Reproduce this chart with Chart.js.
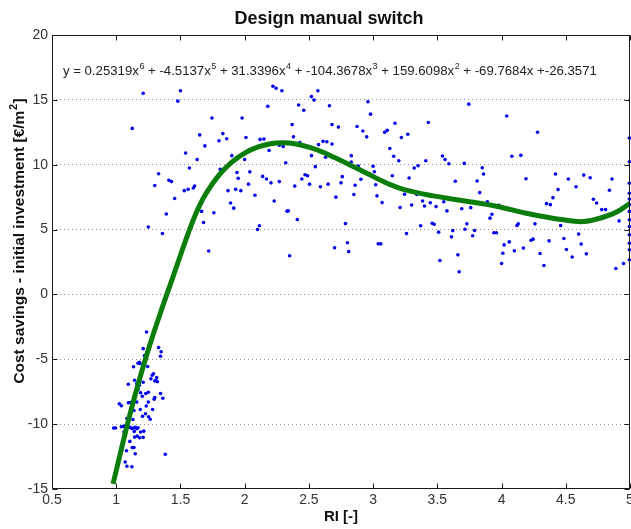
<!DOCTYPE html>
<html>
<head>
<meta charset="utf-8">
<script src="https://cdn.jsdelivr.net/npm/chart.js@4.4.1/dist/chart.umd.min.js"></script>
<style>
  html, body { margin: 0; padding: 0; background: #fff; overflow: hidden; }
  #wrap { width: 640px; height: 529px; }
</style>
</head>
<body>
<div id="wrap"><canvas id="chart" width="640" height="529"></canvas></div>
<script>
// ═══ DATA ═══
const xTicks = [0.5, 1, 1.5, 2, 2.5, 3, 3.5, 4, 4.5, 5];
const yTicks = [-15, -10, -5, 0, 5, 10, 15, 20];

// scatter: RI vs cost savings - initial investment
const riValues = [
  // cluster near RI = 1
  1.236, 1.33, 1.35, 1.345, 1.21, 1.22, 1.18, 1.17, 1.185, 1.135, 1.245, 1.29, 1.28, 1.27, 1.315, 1.31, 1.32, 1.30,
  1.094, 1.143, 1.16, 1.18, 1.21, 1.17, 1.19, 1.23, 1.25, 1.345, 1.363, 1.30, 1.295, 1.203, 1.16, 1.094, 1.11, 1.024,
  1.04, 1.187, 1.25, 1.234, 1.138, 1.228, 1.205, 1.252, 1.265, 1.283, 1.13, 1.083, 0.98, 0.995, 1.04, 1.055, 1.07,
  1.104, 1.12, 1.133, 1.148, 1.16, 1.17, 1.06, 1.14, 1.19, 1.215, 1.143, 1.164, 1.182, 1.21, 1.106, 1.08, 1.04, 1.125,
  1.138, 1.148, 1.382, 1.07, 1.083, 1.122,
  // RI 1.1 - 2.3
  1.21, 1.50, 1.48, 1.125, 1.745, 1.98, 2.22, 2.245, 2.18, 1.65, 1.83, 1.86, 1.80, 1.69, 2.01, 2.12, 2.15, 2.19, 2.27,
  1.54, 1.63, 1.90, 2.0, 1.57, 1.81, 1.94, 2.04, 1.33, 1.41, 1.43, 1.95, 2.14, 2.17, 2.205, 2.27, 1.30, 1.53, 1.56,
  1.60, 1.61, 1.77, 1.71, 1.87, 1.93, 1.97, 2.03, 2.08, 1.455, 1.89, 1.915, 2.23, 1.39, 1.76, 1.665, 1.68, 1.25, 1.36,
  2.115, 2.10, 1.72,
  2.35, 2.70, 2.80, 2.81, 3.04, 3.06,
  // RI 2.3 - 3.6
  2.29, 2.42, 2.46, 2.52, 2.54, 2.57, 2.66, 2.37, 2.38, 2.68, 2.73, 2.96, 2.98, 2.875, 2.92, 2.95, 3.17, 3.09, 3.11,
  3.22, 3.27, 3.43, 2.30, 2.43, 2.575, 2.61, 2.64, 2.68, 2.52, 2.63, 2.83, 2.83, 2.885, 3.13, 3.16, 3.2, 3.0, 3.01,
  3.32, 3.35, 3.41, 3.54, 3.56, 3.59, 2.32, 2.55, 2.39, 2.445, 2.47, 2.49, 2.505, 2.59, 2.65, 2.75, 2.76, 2.905, 2.86,
  2.85, 2.71, 3.02, 3.03, 3.07, 3.15, 3.125, 3.28, 3.245, 3.21, 3.30, 3.34, 3.385, 3.40, 3.445, 3.49, 3.55, 3.575,
  2.33, 2.34, 2.41, 2.785, 3.37, 3.46, 3.475, 3.26, 3.51, 3.52,
  // RI 3.6 - 5
  3.745, 4.04, 4.28, 3.71, 3.85, 3.86, 4.08, 4.15, 4.19, 3.64, 3.81, 3.83, 3.89, 4.42, 4.52, 4.58, 4.64, 4.69, 4.86,
  4.44, 4.40, 4.35, 4.38, 4.84, 4.715, 4.74, 4.78, 4.81, 3.69, 3.76, 3.925, 3.91, 3.98, 3.61, 3.62, 3.715, 3.73, 3.775,
  3.79, 3.94, 3.96, 4.06, 4.02, 4.0, 4.01, 4.10, 4.12, 4.13, 4.17, 4.23, 4.245, 4.26, 4.30, 4.33, 4.37, 4.46, 4.485,
  4.505, 4.55, 4.60, 4.62, 4.66, 3.66, 3.67, 4.915, 4.89, 4.95,
  4.995, 4.995, 4.995, 4.995, 4.995, 4.995, 4.995, 4.995, 4.995, 4.995, 4.995, 4.995, 4.995
];
const savingsValues = [
  -2.9, -4.1, -4.42, -4.77, -4.18, -4.72, -5.23, -5.31, -5.33, -5.58, -5.56, -6.12, -6.23, -6.51, -6.41, -6.64, -6.73, -6.67,
  -6.92, -6.62, -6.87, -7.0, -6.77, -7.33, -7.58, -7.64, -7.54, -7.64, -8.0, -7.95, -8.08, -7.85, -8.3, -8.35, -8.33, -8.43,
  -8.58, -8.87, -8.3, -8.6, -8.95, -9.2, -9.4, -9.43, -9.62, -8.87, -9.64, -9.56, -10.3, -10.3, -10.2, -10.17, -10.15,
  -10.23, -10.33, -10.3, -10.25, -10.35, -10.28, -10.6, -10.56, -10.6, -10.54, -11.0, -10.92, -11.05, -11.02, -11.33, -12.05, -12.02, -11.8,
  -11.8, -12.28, -12.33, -12.92, -13.25, -13.28,
  15.5, 15.7, 14.9, 12.8, 13.6, 13.6, 16.05, 15.9, 14.5, 12.3, 12.4, 12.0, 11.85, 11.45, 12.1, 11.95, 11.98, 11.1, 11.5,
  10.9, 10.4, 10.7, 10.4, 9.75, 9.65, 9.4, 9.45, 9.3, 8.8, 8.7, 8.95, 9.1, 8.9, 8.6, 8.7, 8.4, 8.0, 8.1,
  8.2, 8.35, 8.75, 7.9, 8.0, 8.1, 8.0, 8.5, 7.65, 7.4, 7.05, 6.65, 7.2, 6.2, 6.3, 6.4, 5.55, 5.2, 4.7,
  5.3, 5.0, 3.35,
  2.98, 3.6, 3.98, 3.3, 3.9, 3.9,
  15.7, 14.6, 14.2, 15.25, 14.98, 15.7, 14.55, 13.1, 12.15, 13.1, 12.9, 14.85, 13.9, 12.95, 12.6, 12.15, 13.2, 12.5, 12.65,
  12.1, 12.35, 13.25, 11.4, 11.7, 11.55, 11.8, 11.77, 11.6, 10.7, 10.57, 10.7, 10.2, 9.9, 11.25, 10.65, 10.3, 9.88, 9.46,
  9.75, 9.92, 10.3, 10.67, 10.4, 10.08, 10.15, 9.85, 8.35, 8.9, 9.23, 9.15, 8.5, 8.3, 8.5, 8.6, 9.08, 8.88, 8.42,
  7.7, 7.5, 8.46, 7.6, 7.08, 9.15, 8.46, 8.98, 7.72, 6.7, 6.9, 7.7, 7.2, 6.82, 7.07, 6.77, 7.15, 6.44,
  6.42, 6.44, 5.77, 5.46, 5.3, 5.49, 5.41, 4.69, 4.8, 2.62,
  14.67, 13.75, 12.5, 10.1, 9.77, 9.28, 10.65, 10.72, 8.92, 8.72, 8.75, 7.85, 7.15, 9.28, 8.9, 8.3, 9.2, 9.0, 8.9,
  8.08, 7.46, 7.0, 6.92, 8.03, 7.34, 7.05, 6.54, 6.54, 6.6, 6.69, 6.18, 5.88, 6.88, 4.44, 4.92, 5.03, 5.44, 4.52,
  4.93, 4.75, 4.75, 4.05, 3.82, 2.38, 3.18, 3.36, 5.31, 5.44, 3.57, 4.18, 4.26, 5.44, 3.15, 2.23, 4.13, 5.31, 4.31,
  3.46, 2.88, 4.65, 3.88, 3.13, 3.05, 1.75, 5.67, 2.0, 2.38,
  12.05, 10.23, 8.57, 7.8, 7.35, 6.92, 6.4, 5.75, 5.23, 4.6, 3.95, 3.44, 2.67
];

// 6th order fit curve
const fitRI = [0.975, 1.117, 1.234, 1.338, 1.44, 1.57, 1.63, 1.70, 1.80, 1.90, 2.00, 2.10, 2.20, 2.30, 2.40, 2.50, 2.60,
  2.70, 2.82, 2.95, 3.08, 3.21, 3.34, 3.47, 3.60, 3.75, 3.96, 4.22, 4.48, 4.64, 4.79, 4.90, 5.0];
const fitSavings = [-14.6, -8.87, -4.77, -1.6, 1.3, 4.98, 6.45, 7.8, 9.2, 10.2, 10.9, 11.35, 11.62, 11.7, 11.6, 11.35, 11.0,
  10.55, 9.98, 9.34, 8.7, 8.18, 7.85, 7.6, 7.38, 7.15, 6.8, 6.2, 5.75, 5.62, 5.95, 6.38, 7.03];

const FONT = "'Liberation Sans', Arial, Helvetica, sans-serif";

// ═══ FRAME + TEXT PLUGIN ═══
const framePlugin = {
  id: 'frame',
  afterDatasetsDraw(chart) {
    const ctx = chart.ctx, a = chart.chartArea;
    const xs = chart.scales.x, ys = chart.scales.y;
    ctx.save();
    ctx.strokeStyle = '#1a1a1a';
    ctx.lineWidth = 1;
    const L = Math.round(a.left) + 0.5, R = Math.round(a.right) - 0.5;
    const T = Math.round(a.top) + 0.5, B = Math.round(a.bottom) - 0.5;
    ctx.strokeRect(L, T, R - L, B - T);
    ctx.beginPath();
    xTicks.forEach(v => {
      const px = Math.round(xs.getPixelForValue(v)) + 0.5;
      ctx.moveTo(px, B); ctx.lineTo(px, B - 5);
      ctx.moveTo(px, T); ctx.lineTo(px, T + 5);
    });
    yTicks.forEach(v => {
      const py = Math.round(ys.getPixelForValue(v)) + 0.5;
      ctx.moveTo(L, py); ctx.lineTo(L + 5, py);
      ctx.moveTo(R, py); ctx.lineTo(R - 5, py);
    });
    ctx.stroke();
    ctx.restore();
  },
  afterDraw(chart) {
    const ctx = chart.ctx, a = chart.chartArea;
    ctx.save();
    ctx.fillStyle = '#111';
    ctx.textBaseline = 'alphabetic';

    // title
    ctx.font = 'bold 18px ' + FONT;
    ctx.textAlign = 'center';
    ctx.fillText('Design manual switch', 329, 24);

    // x label
    ctx.font = 'bold 15px ' + FONT;
    ctx.fillText('RI [-]', (a.left + a.right) / 2, 521);

    // equation with superscripts
    const eq = [['y = 0.25319x', '6'], [' + -4.5137x', '5'], [' + 31.3396x', '4'], [' + -104.3678x', '3'],
      [' + 159.6098x', '2'], [' + -69.7684x +-26.3571', '']];
    ctx.textAlign = 'left';
    ctx.fillStyle = '#222';
    let ex = 63;
    eq.forEach(([t, s]) => {
      ctx.font = '13.2px ' + FONT;
      ctx.fillText(t, ex, 75);
      ex += ctx.measureText(t).width;
      if (s) {
        ctx.font = '9px ' + FONT;
        ctx.fillText(s, ex + 0.5, 69);
        ex += ctx.measureText(s).width + 0.5;
      }
    });

    // y label, rotated
    ctx.fillStyle = '#111';
    ctx.translate(24, 241);
    ctx.rotate(-Math.PI / 2);
    const main = 'Cost savings - initial investment [€/m', sup = '2', end = ']';
    ctx.font = 'bold 15.5px ' + FONT;
    const wMain = ctx.measureText(main).width, wEnd = ctx.measureText(end).width;
    ctx.font = 'bold 11px ' + FONT;
    const wSup = ctx.measureText(sup).width + 1;
    let lx = -(wMain + wSup + wEnd) / 2;
    ctx.font = 'bold 15.5px ' + FONT;
    ctx.fillText(main, lx, 0);
    ctx.font = 'bold 11px ' + FONT;
    ctx.fillText(sup, lx + wMain + 0.5, -7);
    ctx.font = 'bold 15.5px ' + FONT;
    ctx.fillText(end, lx + wMain + wSup, 0);
    ctx.restore();
  }
};

// ═══ CHART ═══
const scatterPts = riValues.map((x, i) => ({ x, y: savingsValues[i] }));
const fitPts = fitRI.map((x, i) => ({ x, y: fitSavings[i] }));

new Chart(document.getElementById('chart'), {
  type: 'scatter',
  data: {
    datasets: [
      {
        type: 'line',
        data: fitPts,
        borderColor: '#0a7d0a',
        borderWidth: 5,
        pointRadius: 0,
        fill: false,
        tension: 0.4,
        order: 0
      },
      {
        data: scatterPts,
        backgroundColor: '#0000ee',
        borderWidth: 0,
        pointRadius: 1.8,
        clip: 4,
        order: 1
      }
    ]
  },
  options: {
    responsive: false,
    animation: false,
    devicePixelRatio: 1,
    layout: { padding: { top: 35, right: 10, left: 0, bottom: 0 } },
    plugins: { legend: { display: false }, tooltip: { enabled: false }, title: { display: false } },
    scales: {
      x: {
        type: 'linear',
        min: 0.5, max: 5,
        afterFit: s => { s.height = 40; },
        afterBuildTicks: s => { s.ticks = xTicks.map(v => ({ value: v })); },
        ticks: { color: '#333', font: { family: FONT, size: 14 }, padding: 3, maxRotation: 0, autoSkip: false,
          callback: v => String(v) },
        grid: { display: false, drawTicks: false },
        border: { display: false }
      },
      y: {
        type: 'linear',
        min: -15, max: 20,
        afterFit: s => { s.width = 52; },
        afterBuildTicks: s => { s.ticks = yTicks.map(v => ({ value: v })); },
        ticks: { color: '#333', font: { family: FONT, size: 14 }, padding: 4,
          callback: v => String(v) },
        grid: {
          drawTicks: false,
          color: c => (c.tick && (c.tick.value === 20 || c.tick.value === -15)) ? 'rgba(0,0,0,0)' : '#8a8a8a'
        },
        border: { display: false, dash: [1, 3] }
      }
    }
  },
  plugins: [framePlugin]
});
</script>
</body>
</html>
